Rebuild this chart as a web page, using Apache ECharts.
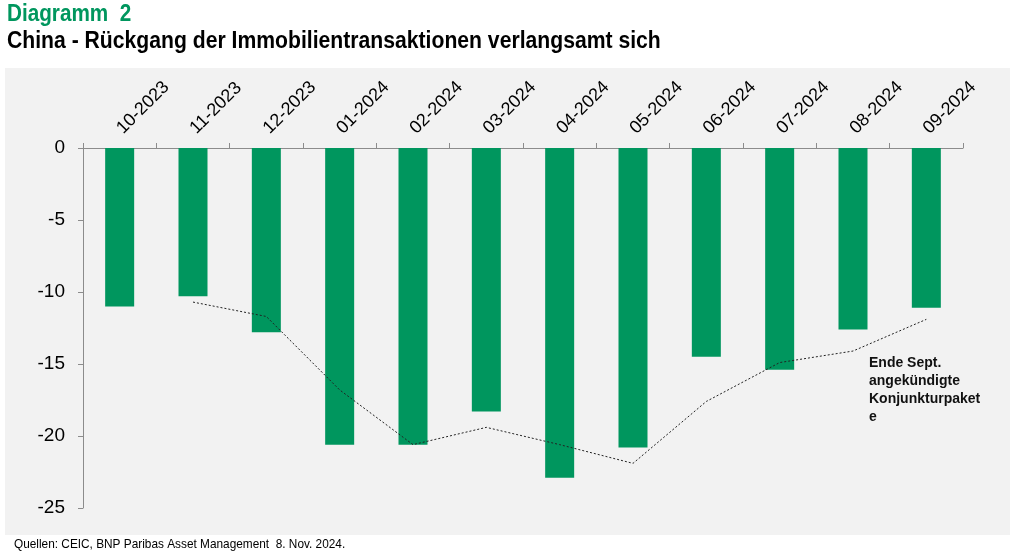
<!DOCTYPE html>
<html>
<head>
<meta charset="utf-8">
<script src="https://cdn.jsdelivr.net/npm/echarts@6/dist/echarts.min.js"></script>
<style>
  html, body { margin: 0; padding: 0; background: #fff; }
  #chart { width: 1014px; height: 558px; }
</style>
</head>
<body>
<div id="chart"></div>
<script>
// Monate
var months = ['10-2023', '11-2023', '12-2023', '01-2024', '02-2024', '03-2024',
              '04-2024', '05-2024', '06-2024', '07-2024', '08-2024', '09-2024'];
// Balken: Immobilientransaktionen
var transactions = [-11.0, -10.3, -12.8, -20.6, -20.6, -18.3, -22.9, -20.8, -14.5, -15.4, -12.6, -11.1];
// gepunktete Linie
var trend = [null, -10.7, -11.7, -16.8, -20.6, -19.4, -20.6, -21.9, -17.6, -14.9, -14.1, -11.9];
var yTicks = [0, -5, -10, -15, -20, -25];

var font = "'Liberation Sans', Arial, sans-serif";
var green = '#00965e';

var myChart = echarts.init(document.getElementById('chart'));
var option = {
    backgroundColor: '#ffffff',
    animation: false,
    graphic: [
        { type: 'rect', z: -10, shape: { x: 5, y: 68, width: 1005, height: 467 }, style: { fill: '#f2f2f2' } },
        { type: 'text', x: 7, y: 3, scaleX: 0.9, style: { text: 'Diagramm  2', font: 'bold 23px ' + font, fill: green } },
        { type: 'text', x: 7, y: 30, scaleX: 0.92, style: { text: 'China - Rückgang der Immobilientransaktionen verlangsamt sich', font: 'bold 23px ' + font, fill: '#000' } },
        { type: 'text', x: 14, y: 538, scaleX: 0.91, style: { text: 'Quellen: CEIC, BNP Paribas Asset Management  8. Nov. 2024.', font: '13px ' + font, fill: '#000' } },
        { type: 'text', x: 869, y: 354, style: { text: 'Ende Sept.\nangekündigte\nKonjunkturpaket\ne', font: 'bold 14px ' + font, fill: '#111', lineHeight: 18 } }
    ],
    grid: { left: 83, right: 51, top: 148, bottom: 50 },
    xAxis: {
        type: 'category',
        position: 'top',
        data: months,
        axisLine: { onZero: false, lineStyle: { color: '#8c8c8c', width: 1 } },
        axisTick: { show: true, length: 5, lineStyle: { color: '#8c8c8c' } },
        axisLabel: { rotate: -45, color: '#000', fontSize: 18, fontFamily: font, margin: 17 }
    },
    yAxis: {
        type: 'value',
        min: -25,
        max: 0,
        interval: 5,
        splitLine: { show: false },
        axisLine: { show: true, lineStyle: { color: '#8c8c8c' } },
        axisTick: { show: true, length: 5, lineStyle: { color: '#8c8c8c' } },
        axisLabel: {
            color: '#000', fontSize: 19, fontFamily: font, margin: 18,
            formatter: function (v) { return yTicks.indexOf(v) >= 0 ? String(v) : ''; }
        }
    },
    series: [
        {
            type: 'bar',
            data: transactions,
            barWidth: 29,
            itemStyle: { color: green }
        },
        {
            type: 'line',
            data: trend,
            symbol: 'none',
            connectNulls: false,
            lineStyle: { color: '#222', width: 1, type: [2, 2] },
            z: 5
        }
    ]
};
myChart.setOption(option, true);
</script>
</body>
</html>
